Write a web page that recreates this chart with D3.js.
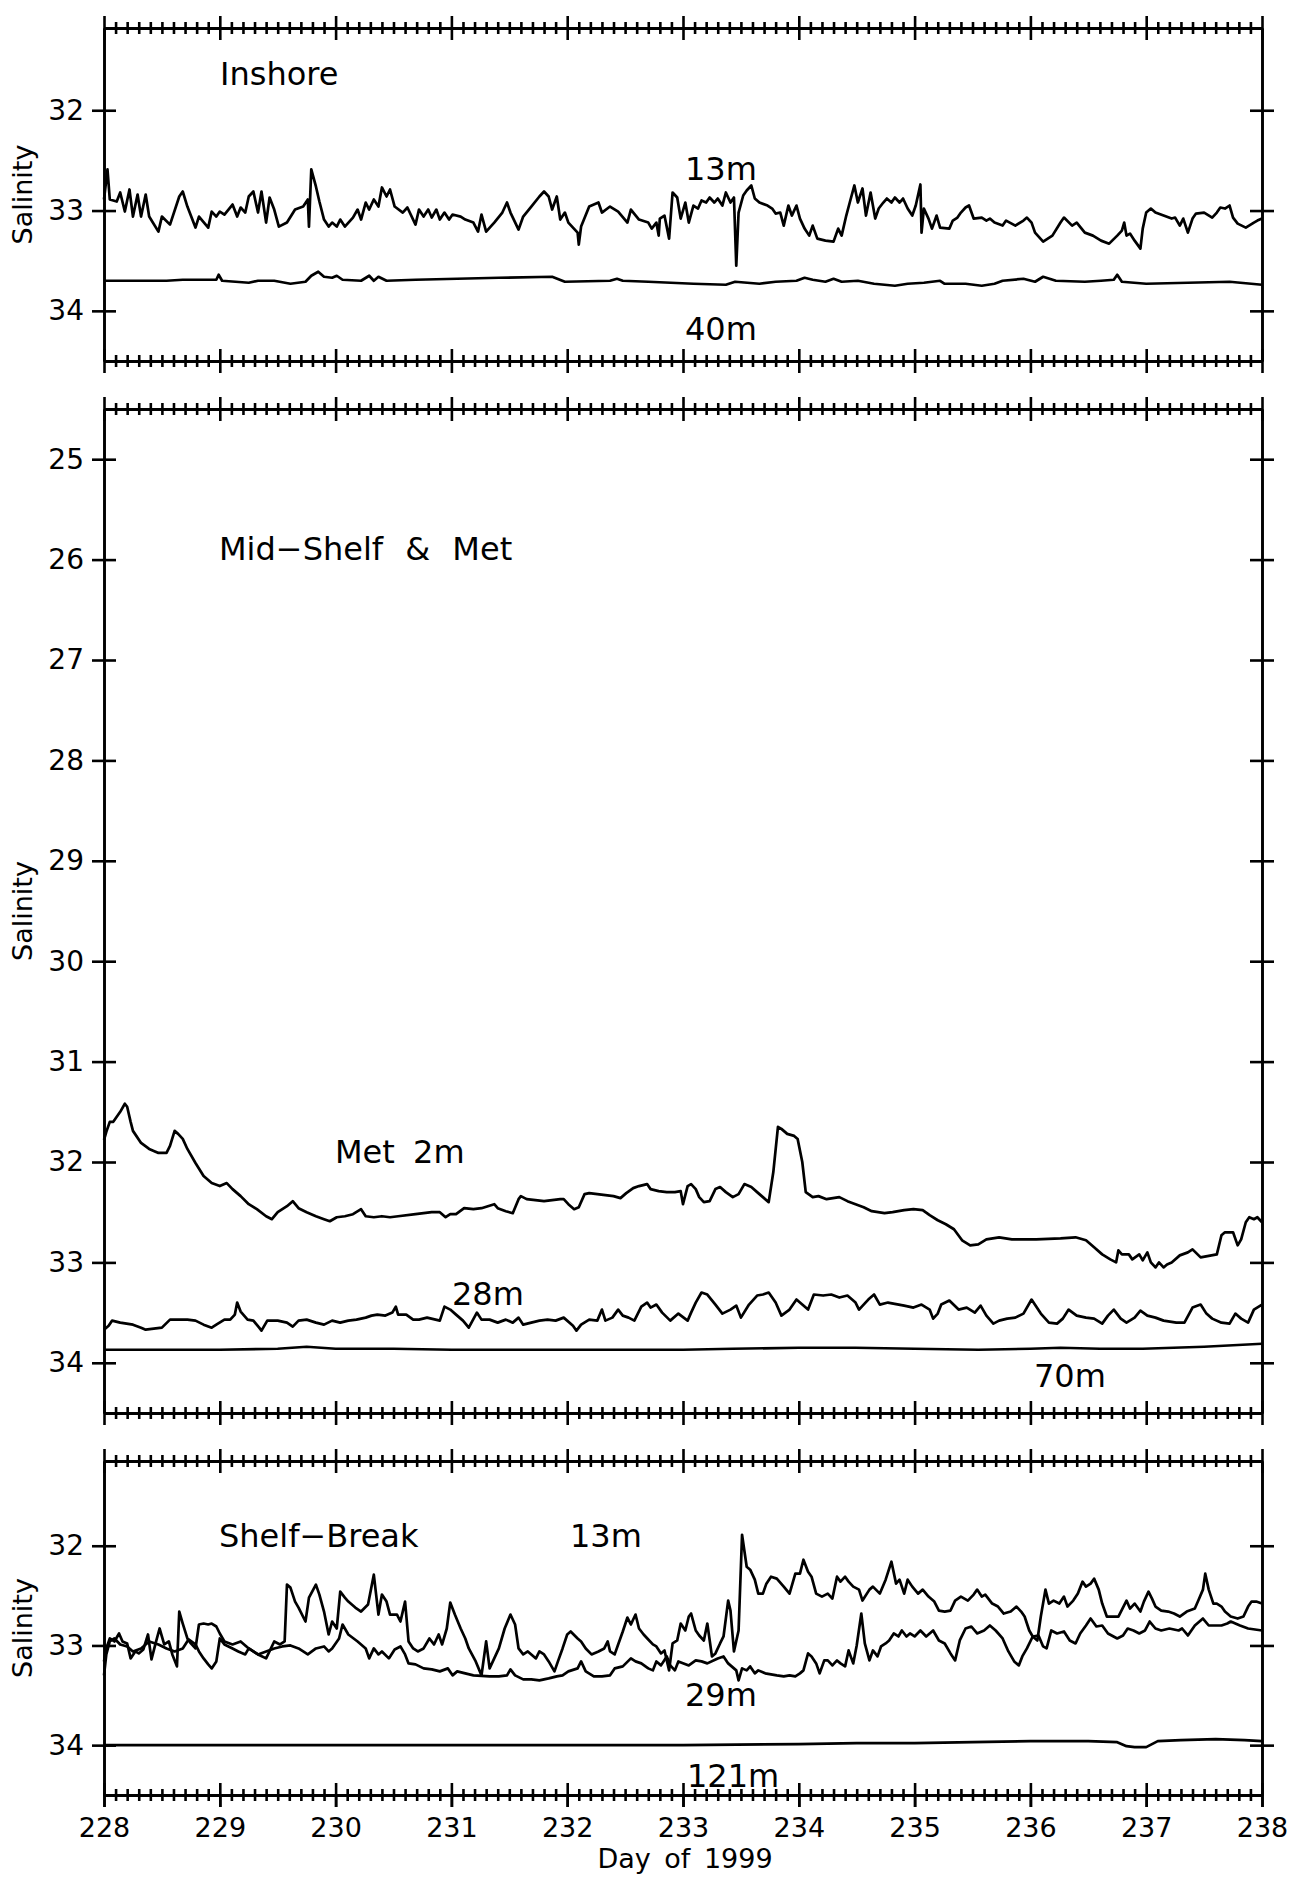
<!DOCTYPE html>
<html>
<head>
<meta charset="utf-8">
<script src="https://cdn.jsdelivr.net/npm/d3@7/dist/d3.min.js"></script>
<style>
  html, body { margin: 0; padding: 0; background: #fff; }
  svg { display: block; }
</style>
</head>
<body>
<div id="chart"></div>
<script>
// ---------------- DATA ----------------
const dayTicks = [228, 229, 230, 231, 232, 233, 234, 235, 236, 237, 238];
const dayTickLabels = ["228", "229", "230", "231", "232", "233", "234", "235", "236", "237", "238"];
const inshoreYTicks = [32, 33, 34];
const midShelfYTicks = [25, 26, 27, 28, 29, 30, 31, 32, 33, 34];
const shelfBreakYTicks = [32, 33, 34];

const panelTitles = ["Inshore", "Mid\u2212Shelf & Met", "Shelf\u2212Break"];
const seriesLabels = ["13m", "40m", "Met 2m", "28m", "70m", "13m", "29m", "121m"];
const yAxisTitle = "Salinity";
const xAxisTitle = "Day of 1999";

// Inshore mooring, 13 m  [day, salinity]
const inshore13m = [
[228.00,32.89],[228.03,32.59],[228.05,32.89],[228.11,32.91],[228.14,32.82],[228.18,33.01],[228.22,32.79],[228.25,33.06],[228.29,32.84],[228.32,33.06],[228.36,32.84],[228.39,33.06],[228.47,33.21],[228.50,33.06],[228.57,33.14],[228.65,32.86],[228.68,32.81],[228.72,32.96],[228.79,33.17],[228.82,33.06],[228.90,33.17],[228.93,33.01],[228.97,33.06],[229.00,33.01],[229.04,33.04],[229.11,32.94],[229.15,33.06],[229.18,32.97],[229.22,33.02],[229.25,32.86],[229.29,32.81],[229.33,33.02],[229.36,32.81],[229.40,33.12],[229.43,32.87],[229.47,32.99],[229.51,33.16],[229.58,33.12],[229.65,32.99],[229.72,32.96],[229.76,32.89],[229.77,33.16],[229.79,32.59],[229.83,32.76],[229.86,32.91],[229.90,33.09],[229.94,33.16],[229.97,33.12],[230.01,33.16],[230.04,33.09],[230.08,33.16],[230.15,33.07],[230.19,32.99],[230.22,33.09],[230.26,32.92],[230.29,32.99],[230.33,32.89],[230.37,32.96],[230.40,32.77],[230.44,32.86],[230.47,32.79],[230.51,32.96],[230.58,33.02],[230.62,32.97],[230.69,33.14],[230.72,32.99],[230.76,33.06],[230.80,32.99],[230.83,33.07],[230.87,32.99],[230.90,33.09],[230.94,33.02],[230.98,33.09],[231.01,33.04],[231.08,33.06],[231.12,33.09],[231.19,33.12],[231.23,33.21],[231.26,33.04],[231.30,33.21],[231.37,33.12],[231.44,33.02],[231.48,32.92],[231.51,33.02],[231.58,33.19],[231.62,33.06],[231.69,32.96],[231.76,32.86],[231.80,32.81],[231.84,32.86],[231.87,32.99],[231.91,32.86],[231.94,33.09],[231.98,33.02],[232.01,33.12],[232.09,33.22],[232.10,33.34],[232.12,33.16],[232.19,32.96],[232.27,32.92],[232.30,33.02],[232.37,32.96],[232.44,33.01],[232.52,33.12],[232.55,32.99],[232.62,33.09],[232.70,33.12],
[232.73,33.18],[232.77,33.12],[232.79,33.25],[232.80,33.08],[232.84,33.05],[232.88,33.28],[232.91,32.82],[232.95,32.87],[232.98,33.08],[233.02,32.92],[233.05,33.12],[233.09,32.95],[233.13,32.98],[233.16,32.90],[233.20,32.92],[233.23,32.87],[233.27,32.92],[233.30,32.88],[233.34,32.95],[233.37,32.82],[233.41,32.92],[233.44,32.87],[233.46,33.55],[233.48,33.02],[233.52,32.85],[233.55,32.80],[233.59,32.75],[233.62,32.88],[233.66,32.92],[233.73,32.95],[233.77,32.98],[233.80,33.03],[233.84,33.02],[233.87,33.15],[233.91,32.95],[233.94,33.05],[233.98,32.95],[234.01,33.08],[234.05,33.18],[234.09,33.25],[234.12,33.15],[234.16,33.28],[234.23,33.30],[234.30,33.31],[234.34,33.18],[234.37,33.25],[234.41,33.05],[234.44,32.92],[234.48,32.75],[234.51,32.92],[234.55,32.78],[234.58,33.05],[234.62,32.82],[234.66,33.08],[234.69,32.98],[234.73,32.92],[234.76,32.88],[234.80,32.92],[234.83,32.87],[234.87,32.92],[234.90,32.88],[234.94,32.98],[234.98,33.05],[235.01,32.95],[235.05,32.74],[235.06,33.22],[235.08,32.98],[235.12,33.08],[235.15,33.18],[235.19,33.05],[235.22,33.17],[235.30,33.18],[235.33,33.10],[235.37,33.07],[235.40,33.02],[235.44,32.97],[235.47,32.95],[235.51,33.08],[235.58,33.07],[235.62,33.10],[235.65,33.08],[235.69,33.12],[235.76,33.15],[235.79,33.10],[235.87,33.15],[235.94,33.10],[235.97,33.07],[236.01,33.12],[236.04,33.22],[236.11,33.31],[236.19,33.25],[236.26,33.12],[236.29,33.07],[236.36,33.15],[236.40,33.12],[236.47,33.22],[236.54,33.25],[236.61,33.30],[236.68,33.33],[236.75,33.25],[236.79,33.20],[236.81,33.12],[236.83,33.25],[236.86,33.23],[236.90,33.30],[236.95,33.38],[236.97,33.18],[237.00,33.02],[237.04,32.98],[237.08,33.02],[237.15,33.05],[237.22,33.08],[237.25,33.07],[237.29,33.15],[237.32,33.08],[237.36,33.22],[237.40,33.08],[237.43,33.03],[237.50,33.02],[237.57,33.07],[237.61,33.02],[237.64,32.97],[237.68,32.98],[237.72,32.95],[237.75,33.07],[237.79,33.13],[237.86,33.17],[237.93,33.12],[237.96,33.10],[238.00,33.08]
];

// Inshore mooring, 40 m
const inshore40m = [
[228.00,33.70],[228.18,33.70],[228.54,33.70],[228.68,33.69],[228.97,33.69],[228.99,33.64],[229.02,33.70],[229.25,33.72],[229.33,33.70],[229.47,33.70],[229.61,33.73],[229.74,33.71],[229.79,33.65],[229.85,33.61],[229.90,33.66],[229.97,33.67],[230.01,33.65],[230.06,33.69],[230.22,33.70],[230.29,33.65],[230.33,33.70],[230.37,33.66],[230.44,33.70],[230.69,33.69],[231.05,33.68],[231.41,33.67],[231.87,33.66],[231.98,33.71],[232.37,33.70],[232.43,33.68],[232.48,33.70],[232.70,33.71],
[233.09,33.73],[233.37,33.74],[233.45,33.71],[233.66,33.73],[233.80,33.71],[233.98,33.70],[234.05,33.67],[234.12,33.69],[234.23,33.71],[234.30,33.68],[234.37,33.71],[234.51,33.70],[234.65,33.73],[234.83,33.75],[234.94,33.73],[235.08,33.72],[235.22,33.70],[235.26,33.73],[235.44,33.73],[235.58,33.75],[235.69,33.73],[235.76,33.70],[235.94,33.68],[236.04,33.71],[236.11,33.66],[236.22,33.70],[236.47,33.71],[236.61,33.70],[236.72,33.69],[236.75,33.64],[236.79,33.71],[237.00,33.73],[237.36,33.72],[237.72,33.71],[238.00,33.74]
];

// Met buoy, 2 m
const met2m = [
[228.00,31.78],[228.02,31.70],[228.05,31.60],[228.08,31.60],[228.11,31.55],[228.14,31.50],[228.18,31.42],[228.20,31.45],[228.23,31.60],[228.25,31.69],[228.32,31.81],[228.39,31.87],[228.47,31.91],[228.54,31.91],[228.57,31.84],[228.61,31.69],[228.64,31.72],[228.68,31.77],[228.72,31.87],[228.79,32.01],[228.86,32.14],[228.93,32.21],[229.00,32.24],[229.06,32.21],[229.11,32.27],[229.18,32.34],[229.25,32.42],[229.32,32.47],[229.40,32.54],[229.45,32.57],[229.50,32.50],[229.58,32.44],[229.63,32.39],[229.68,32.46],[229.75,32.50],[229.83,32.54],[229.90,32.57],[229.95,32.59],[230.01,32.55],[230.08,32.54],[230.15,32.52],[230.22,32.47],[230.26,32.54],[230.33,32.55],[230.40,32.54],[230.47,32.55],[230.54,32.54],[230.69,32.52],[230.83,32.50],[230.90,32.50],[230.95,32.55],[230.99,32.52],[231.04,32.52],[231.11,32.46],[231.19,32.47],[231.26,32.46],[231.37,32.42],[231.40,32.46],[231.47,32.49],[231.53,32.51],[231.58,32.37],[231.60,32.34],[231.65,32.37],[231.80,32.39],[231.94,32.37],[231.97,32.37],[232.01,32.42],[232.06,32.47],[232.10,32.45],[232.15,32.32],[232.19,32.31],[232.33,32.33],[232.40,32.34],[232.46,32.36],[232.51,32.31],[232.57,32.26],[232.62,32.24],[232.69,32.22],
[232.72,32.27],[232.79,32.29],[232.86,32.30],[232.93,32.30],[232.98,32.29],[233.00,32.42],[233.04,32.24],[233.07,32.22],[233.11,32.27],[233.14,32.35],[233.18,32.40],[233.23,32.39],[233.28,32.27],[233.32,32.25],[233.37,32.30],[233.43,32.35],[233.48,32.32],[233.53,32.22],[233.59,32.25],[233.64,32.30],[233.69,32.35],[233.74,32.40],[233.78,32.10],[233.82,31.65],[233.85,31.67],[233.90,31.72],[233.96,31.74],[233.99,31.77],[234.03,32.00],[234.06,32.30],[234.12,32.35],[234.17,32.34],[234.24,32.37],[234.35,32.35],[234.42,32.39],[234.49,32.42],[234.56,32.45],[234.63,32.49],[234.74,32.51],[234.81,32.50],[234.91,32.48],[234.99,32.47],[235.07,32.48],[235.13,32.53],[235.20,32.58],[235.27,32.62],[235.34,32.67],[235.41,32.78],[235.48,32.83],[235.55,32.82],[235.62,32.77],[235.73,32.75],[235.84,32.77],[236.05,32.77],[236.26,32.76],[236.39,32.75],[236.48,32.78],[236.55,32.85],[236.62,32.92],[236.69,32.97],[236.74,33.00],[236.76,32.88],[236.79,32.92],[236.85,32.92],[236.88,32.97],[236.94,32.92],[236.97,32.98],[237.01,32.90],[237.04,33.00],[237.08,33.05],[237.11,33.00],[237.15,33.05],[237.18,33.02],[237.22,33.00],[237.29,32.93],[237.36,32.90],[237.40,32.87],[237.47,32.95],[237.61,32.92],[237.65,32.73],[237.68,32.70],[237.75,32.70],[237.79,32.83],[237.82,32.77],[237.86,32.60],[237.89,32.55],[237.93,32.57],[237.96,32.55],[238.00,32.60]
];

// Mid-shelf mooring, 28 m
const midShelf28m = [
[228.00,33.67],[228.04,33.63],[228.07,33.58],[228.14,33.60],[228.25,33.62],[228.32,33.65],[228.36,33.67],[228.50,33.65],[228.57,33.57],[228.72,33.57],[228.79,33.58],[228.86,33.62],[228.93,33.65],[228.97,33.62],[229.04,33.57],[229.09,33.57],[229.13,33.52],[229.15,33.40],[229.18,33.49],[229.24,33.57],[229.29,33.58],[229.34,33.65],[229.36,33.68],[229.41,33.58],[229.50,33.58],[229.58,33.60],[229.63,33.64],[229.68,33.58],[229.75,33.57],[229.83,33.60],[229.90,33.62],[229.97,33.58],[230.04,33.60],[230.11,33.58],[230.18,33.57],[230.26,33.55],[230.31,33.53],[230.36,33.52],[230.43,33.53],[230.49,33.50],[230.52,33.44],[230.54,33.52],[230.61,33.52],[230.67,33.57],[230.72,33.57],[230.79,33.55],[230.90,33.58],[230.94,33.44],[230.99,33.47],[231.04,33.52],[231.10,33.58],[231.15,33.65],[231.22,33.50],[231.26,33.57],[231.33,33.57],[231.40,33.60],[231.47,33.57],[231.53,33.60],[231.58,33.55],[231.62,33.62],[231.69,33.60],[231.76,33.58],[231.83,33.57],[231.90,33.58],[231.97,33.55],[232.05,33.63],[232.08,33.68],[232.12,33.62],[232.19,33.57],[232.26,33.58],[232.30,33.47],[232.33,33.58],[232.39,33.55],[232.44,33.47],[232.48,33.53],[232.53,33.55],[232.58,33.58],[232.64,33.44],[232.69,33.40],
[232.72,33.45],[232.77,33.42],[232.82,33.50],[232.89,33.58],[232.96,33.51],[233.04,33.58],[233.07,33.50],[233.11,33.40],[233.16,33.30],[233.21,33.32],[233.28,33.42],[233.34,33.51],[233.41,33.47],[233.46,33.43],[233.50,33.55],[233.57,33.42],[233.64,33.33],[233.69,33.32],[233.74,33.30],[233.80,33.40],[233.85,33.53],[233.92,33.47],[233.98,33.37],[234.03,33.42],[234.08,33.47],[234.13,33.32],[234.21,33.33],[234.28,33.32],[234.35,33.35],[234.42,33.33],[234.49,33.40],[234.52,33.47],[234.60,33.37],[234.65,33.32],[234.70,33.42],[234.77,33.40],[234.91,33.43],[234.99,33.45],[235.06,33.42],[235.13,33.47],[235.16,33.56],[235.20,33.51],[235.23,33.42],[235.30,33.38],[235.38,33.47],[235.45,33.45],[235.52,33.50],[235.57,33.43],[235.62,33.53],[235.68,33.61],[235.73,33.58],[235.80,33.56],[235.87,33.55],[235.94,33.51],[236.01,33.37],[236.09,33.51],[236.16,33.60],[236.23,33.61],[236.28,33.56],[236.33,33.47],[236.40,33.53],[236.48,33.55],[236.55,33.56],[236.62,33.61],[236.67,33.53],[236.72,33.47],[236.78,33.56],[236.83,33.60],[236.90,33.55],[236.95,33.48],[237.01,33.53],[237.08,33.55],[237.15,33.58],[237.26,33.60],[237.33,33.60],[237.40,33.45],[237.47,33.42],[237.52,33.51],[237.57,33.56],[237.65,33.60],[237.72,33.61],[237.77,33.51],[237.82,33.56],[237.88,33.60],[237.93,33.47],[238.00,33.42]
];

// Mid-shelf mooring, 70 m
const midShelf70m = [
[228.00,33.87],[228.50,33.87],[229.00,33.87],[229.50,33.86],[229.75,33.84],[230.00,33.86],[230.50,33.86],[231.00,33.87],[231.50,33.87],[232.00,33.87],[232.50,33.87],[233.00,33.87],[233.43,33.86],[234.00,33.85],[234.49,33.85],[235.00,33.86],[235.55,33.87],[236.00,33.86],[236.26,33.85],[236.60,33.86],[236.97,33.86],[237.50,33.84],[238.00,33.81]
];

// Shelf-break mooring, 13 m
const shelfBreak13m = [
[228.00,33.16],[228.02,33.03],[228.05,32.93],[228.09,32.96],[228.13,32.88],[228.16,32.96],[228.20,32.98],[228.23,33.13],[228.27,33.06],[228.30,33.08],[228.34,33.04],[228.38,32.89],[228.41,33.14],[228.45,32.96],[228.48,32.83],[228.52,32.99],[228.56,32.96],[228.59,33.09],[228.63,33.21],[228.65,32.66],[228.68,32.78],[228.72,32.93],[228.75,32.98],[228.79,33.03],[228.82,32.79],[228.86,32.78],[228.90,32.79],[228.93,32.78],[228.97,32.81],[229.00,32.88],[229.04,32.96],[229.11,32.99],[229.18,32.96],[229.25,33.03],[229.33,33.09],[229.40,33.13],[229.47,32.96],[229.52,32.99],[229.56,32.96],[229.58,32.39],[229.61,32.42],[229.65,32.56],[229.68,32.62],[229.74,32.76],[229.77,32.52],[229.83,32.39],[229.86,32.49],[229.90,32.66],[229.94,32.89],[229.97,32.76],[230.01,32.83],[230.04,32.46],[230.08,32.52],[230.11,32.56],[230.17,32.62],[230.22,32.66],[230.28,32.59],[230.33,32.29],[230.37,32.69],[230.40,32.49],[230.44,32.56],[230.47,32.69],[230.53,32.69],[230.56,32.76],[230.60,32.56],[230.63,32.96],[230.67,33.03],[230.71,33.06],[230.76,33.03],[230.81,32.93],[230.85,32.99],[230.89,32.89],[230.92,32.99],[230.96,32.83],[230.99,32.57],[231.03,32.69],[231.08,32.83],[231.12,32.93],[231.15,33.03],[231.21,33.16],[231.26,33.30],[231.30,32.96],[231.33,33.23],[231.37,33.13],[231.41,33.03],[231.46,32.83],[231.51,32.69],[231.55,32.79],[231.58,33.03],[231.62,33.09],[231.66,33.06],[231.69,33.09],[231.73,33.13],[231.76,33.06],[231.80,33.09],[231.84,33.16],[231.89,33.26],[231.92,33.16],[231.96,33.03],[232.00,32.89],[232.03,32.86],[232.09,32.93],[232.12,32.96],[232.16,33.03],[232.21,33.09],[232.27,33.06],[232.32,33.03],[232.35,32.96],[232.37,33.06],[232.41,33.09],[232.44,32.99],[232.48,32.86],[232.52,32.72],[232.55,32.79],[232.59,32.69],[232.62,32.83],[232.66,32.89],[232.70,32.94],
[232.74,32.99],[232.77,33.01],[232.81,33.08],[232.84,33.05],[232.88,33.25],[232.91,32.98],[232.95,32.95],[232.98,32.78],[233.02,32.85],[233.05,32.71],[233.07,32.68],[233.11,32.85],[233.14,32.90],[233.18,32.95],[233.21,32.78],[233.25,33.11],[233.28,33.08],[233.32,32.98],[233.35,32.91],[233.39,32.55],[233.41,32.65],[233.44,33.06],[233.48,32.85],[233.51,31.89],[233.55,32.21],[233.58,32.24],[233.62,32.34],[233.65,32.48],[233.69,32.48],[233.72,32.38],[233.76,32.31],[233.81,32.33],[233.87,32.41],[233.92,32.48],[233.97,32.28],[234.01,32.28],[234.04,32.14],[234.08,32.26],[234.11,32.31],[234.15,32.48],[234.20,32.51],[234.25,32.48],[234.29,32.53],[234.33,32.31],[234.36,32.36],[234.40,32.31],[234.43,32.36],[234.47,32.41],[234.52,32.44],[234.55,32.55],[234.61,32.44],[234.64,32.41],[234.70,32.48],[234.75,32.34],[234.80,32.16],[234.84,32.38],[234.87,32.34],[234.91,32.48],[234.94,32.34],[234.98,32.41],[235.03,32.48],[235.07,32.44],[235.12,32.51],[235.17,32.56],[235.21,32.65],[235.26,32.66],[235.31,32.65],[235.35,32.55],[235.40,32.51],[235.46,32.55],[235.51,32.49],[235.54,32.44],[235.58,32.51],[235.61,32.49],[235.67,32.58],[235.72,32.61],[235.77,32.68],[235.83,32.66],[235.88,32.61],[235.92,32.66],[235.95,32.71],[235.99,32.85],[236.02,32.91],[236.06,32.95],[236.09,32.71],[236.13,32.44],[236.16,32.58],[236.20,32.55],[236.25,32.58],[236.29,32.51],[236.32,32.61],[236.37,32.55],[236.41,32.48],[236.45,32.36],[236.48,32.41],[236.52,32.38],[236.55,32.33],[236.59,32.44],[236.62,32.58],[236.66,32.71],[236.76,32.71],[236.83,32.55],[236.86,32.63],[236.90,32.58],[236.95,32.66],[236.98,32.56],[237.02,32.46],[237.05,32.53],[237.08,32.61],[237.13,32.65],[237.19,32.66],[237.24,32.68],[237.29,32.71],[237.35,32.66],[237.42,32.63],[237.45,32.55],[237.49,32.44],[237.51,32.28],[237.54,32.44],[237.58,32.58],[237.61,32.58],[237.65,32.61],[237.68,32.66],[237.73,32.71],[237.79,32.73],[237.84,32.71],[237.88,32.61],[237.91,32.56],[237.95,32.56],[238.00,32.58]
];

// Shelf-break mooring, 29 m
const shelfBreak29m = [
[228.00,33.30],[228.02,33.09],[228.05,32.96],[228.09,32.93],[228.14,32.99],[228.20,33.01],[228.25,33.06],[228.32,33.03],[228.39,32.96],[228.47,32.99],[228.54,33.03],[228.61,33.06],[228.68,33.03],[228.73,32.94],[228.79,32.99],[228.82,33.06],[228.86,33.13],[228.90,33.19],[228.93,33.23],[228.97,33.16],[229.00,32.93],[229.04,32.99],[229.11,33.03],[229.16,33.06],[229.22,33.09],[229.25,33.03],[229.33,33.09],[229.40,33.06],[229.47,33.03],[229.54,33.01],[229.61,33.00],[229.68,33.03],[229.76,33.09],[229.83,33.03],[229.90,33.01],[229.94,33.06],[229.97,33.03],[230.03,32.93],[230.06,32.79],[230.11,32.89],[230.19,32.96],[230.26,33.03],[230.29,33.13],[230.33,33.03],[230.37,33.09],[230.40,33.06],[230.46,33.13],[230.51,33.04],[230.56,33.01],[230.60,33.09],[230.63,33.18],[230.69,33.19],[230.76,33.23],[230.83,33.24],[230.90,33.26],[230.97,33.23],[231.01,33.30],[231.05,33.26],[231.12,33.28],[231.19,33.30],[231.33,33.31],[231.41,33.31],[231.48,33.30],[231.51,33.24],[231.55,33.30],[231.62,33.34],[231.69,33.34],[231.76,33.35],[231.84,33.33],[231.91,33.31],[231.96,33.30],[232.01,33.26],[232.09,33.23],[232.12,33.16],[232.16,33.26],[232.23,33.31],[232.30,33.31],[232.37,33.30],[232.41,33.23],[232.48,33.21],[232.55,33.13],[232.59,33.16],[232.64,33.18],[232.70,33.23],
[232.74,33.25],[232.77,33.16],[232.81,33.20],[232.86,33.11],[232.89,33.20],[232.93,33.25],[232.96,33.16],[233.05,33.20],[233.11,33.15],[233.16,33.16],[233.21,33.18],[233.30,33.13],[233.35,33.11],[233.39,33.18],[233.42,33.21],[233.46,33.25],[233.48,33.35],[233.51,33.23],[233.55,33.25],[233.58,33.21],[233.62,33.28],[233.65,33.25],[233.71,33.28],[233.81,33.30],[233.87,33.31],[233.92,33.30],[233.97,33.31],[234.01,33.28],[234.04,33.25],[234.08,33.08],[234.11,33.11],[234.15,33.18],[234.18,33.28],[234.22,33.15],[234.25,33.15],[234.29,33.20],[234.33,33.15],[234.36,33.18],[234.40,33.21],[234.43,33.05],[234.47,33.18],[234.50,33.00],[234.54,32.68],[234.57,32.98],[234.61,33.15],[234.64,33.05],[234.68,33.11],[234.71,33.01],[234.75,32.98],[234.78,32.95],[234.82,32.88],[234.86,32.91],[234.89,32.85],[234.93,32.91],[234.96,32.88],[235.00,32.91],[235.05,32.85],[235.10,32.91],[235.16,32.85],[235.21,32.95],[235.26,32.98],[235.31,33.08],[235.35,33.15],[235.39,32.95],[235.44,32.83],[235.49,32.81],[235.54,32.88],[235.60,32.85],[235.65,32.80],[235.70,32.85],[235.76,32.93],[235.81,33.06],[235.86,33.16],[235.90,33.20],[235.93,33.11],[235.97,33.03],[236.02,32.91],[236.07,32.90],[236.11,33.01],[236.14,33.03],[236.18,32.85],[236.23,32.88],[236.29,32.86],[236.34,32.95],[236.39,32.98],[236.43,32.88],[236.48,32.80],[236.52,32.73],[236.57,32.81],[236.62,32.80],[236.67,32.88],[236.75,32.93],[236.80,32.90],[236.84,32.83],[236.89,32.85],[236.94,32.88],[236.99,32.85],[237.03,32.76],[237.08,32.83],[237.13,32.85],[237.20,32.83],[237.28,32.85],[237.31,32.83],[237.36,32.90],[237.42,32.80],[237.49,32.73],[237.54,32.80],[237.60,32.80],[237.65,32.80],[237.70,32.78],[237.73,32.76],[237.81,32.80],[237.88,32.83],[238.00,32.85]
];

// Shelf-break mooring, 121 m
const shelfBreak121m = [
[228.00,34.00],[229.00,34.00],[230.00,34.00],[231.00,34.00],[232.00,34.00],[233.00,34.00],[234.00,33.99],[234.50,33.98],[235.00,33.98],[235.50,33.97],[236.00,33.96],[236.50,33.96],[236.75,33.97],[236.83,34.01],[236.90,34.02],[237.00,34.02],[237.05,33.99],[237.10,33.96],[237.30,33.95],[237.60,33.94],[237.85,33.95],[238.00,33.96]
];

// ---------------- DRAWING ----------------
const W = 1295, H = 1879;
const FONT = "'DejaVu Sans', 'Liberation Sans', Arial, sans-serif";
const svg = d3.select("#chart").append("svg")
  .attr("width", W).attr("height", H)
  .attr("viewBox", `0 0 ${W} ${H}`);
svg.append("rect").attr("width", W).attr("height", H).attr("fill", "#fff");

const x = d3.scaleLinear().domain([228, 238]).range([104, 1262]);
const minorTicks = d3.range(2280, 2381).filter(v => v % 10 !== 0).map(v => v / 10);

const panels = [
  { top: 28,   bottom: 361,  domain: [31.18, 34.5], yTicks: inshoreYTicks },
  { top: 409,  bottom: 1413, domain: [24.5, 34.5],  yTicks: midShelfYTicks },
  { top: 1461, bottom: 1795, domain: [31.15, 34.5], yTicks: shelfBreakYTicks }
];
panels.forEach(p => { p.y = d3.scaleLinear().domain(p.domain).range([p.top, p.bottom]); });

const AXW = 2.6;
function styleAxis(g) {
  g.selectAll("path.domain").attr("stroke", "#000").attr("stroke-width", AXW);
  g.selectAll(".tick line").attr("stroke", "#000").attr("stroke-width", AXW);
  g.attr("font-family", FONT);
}

function hAxes(yPos) {
  const specs = [
    [d3.axisTop, dayTicks, 12], [d3.axisBottom, dayTicks, 12],
    [d3.axisTop, minorTicks, 6], [d3.axisBottom, minorTicks, 6]
  ];
  specs.forEach(([fn, vals, size]) => {
    svg.append("g").attr("transform", `translate(0,${yPos})`)
      .call(fn(x).tickValues(vals).tickSize(size).tickSizeOuter(0).tickFormat(""))
      .call(styleAxis);
  });
}

panels.forEach((p, i) => {
  hAxes(p.top);
  hAxes(p.bottom);
  // left axis with labels
  svg.append("g").attr("transform", `translate(${x(228)},0)`)
    .call(d3.axisLeft(p.y).tickValues(p.yTicks).tickSize(12).tickSizeOuter(0).tickPadding(8).tickFormat(d3.format("d")))
    .call(styleAxis)
    .call(g => g.selectAll("text").attr("font-size", 28).attr("fill", "#000"));
  svg.append("g").attr("transform", `translate(${x(228)},0)`)
    .call(d3.axisRight(p.y).tickValues(p.yTicks).tickSize(12).tickSizeOuter(0).tickFormat(""))
    .call(styleAxis);
  // right axis
  [d3.axisLeft, d3.axisRight].forEach(fn => {
    svg.append("g").attr("transform", `translate(${x(238)},0)`)
      .call(fn(p.y).tickValues(p.yTicks).tickSize(12).tickSizeOuter(0).tickFormat(""))
      .call(styleAxis);
  });
  // y title
  svg.append("text")
    .attr("transform", `translate(32,${(p.top + p.bottom) / 2}) rotate(-90)`)
    .attr("text-anchor", "middle")
    .attr("font-family", FONT).attr("font-size", 27)
    .text(yAxisTitle);
});

// x tick labels under bottom panel
svg.append("g").attr("transform", `translate(0,${panels[2].bottom})`)
  .call(d3.axisBottom(x).tickValues(dayTicks).tickSize(12).tickSizeOuter(0).tickPadding(11)
    .tickFormat((d, i) => dayTickLabels[i]))
  .call(styleAxis)
  .call(g => g.selectAll("text").attr("font-size", 27).attr("fill", "#000"));

svg.append("text")
  .attr("x", 685).attr("y", 1868)
  .attr("text-anchor", "middle")
  .attr("font-family", FONT).attr("font-size", 27).attr("word-spacing", 5)
  .text(xAxisTitle);

// series
const line = (p) => d3.line().x(d => x(d[0])).y(d => p.y(d[1]));
const seriesDefs = [
  [inshore13m, 0], [inshore40m, 0],
  [met2m, 1], [midShelf28m, 1], [midShelf70m, 1],
  [shelfBreak13m, 2], [shelfBreak29m, 2], [shelfBreak121m, 2]
];
seriesDefs.forEach(([data, pi]) => {
  svg.append("path").datum(data)
    .attr("d", line(panels[pi]))
    .attr("fill", "none").attr("stroke", "#000")
    .attr("stroke-width", 2.7).attr("stroke-linejoin", "round");
});

// labels
const labelPos = [
  { t: panelTitles[0], x: 220, y: 85, ws: 8 },
  { t: seriesLabels[0], x: 685, y: 180, ws: 8 },
  { t: seriesLabels[1], x: 685, y: 340, ws: 8 },
  { t: panelTitles[1], x: 219, y: 560, ws: 12 },
  { t: seriesLabels[2], x: 335, y: 1163, ws: 8 },
  { t: seriesLabels[3], x: 452, y: 1305, ws: 8 },
  { t: seriesLabels[4], x: 1034, y: 1387, ws: 8 },
  { t: panelTitles[2], x: 219, y: 1547, ws: 8 },
  { t: seriesLabels[5], x: 570, y: 1547, ws: 8 },
  { t: seriesLabels[6], x: 685, y: 1706, ws: 8 },
  { t: seriesLabels[7], x: 687, y: 1787, ws: 8 }
];
labelPos.forEach(l => {
  svg.append("text").attr("x", l.x).attr("y", l.y)
    .attr("font-family", FONT).attr("font-size", 32).attr("word-spacing", l.ws)
    .attr("fill", "#000")
    .text(l.t);
});
</script>
</body>
</html>
